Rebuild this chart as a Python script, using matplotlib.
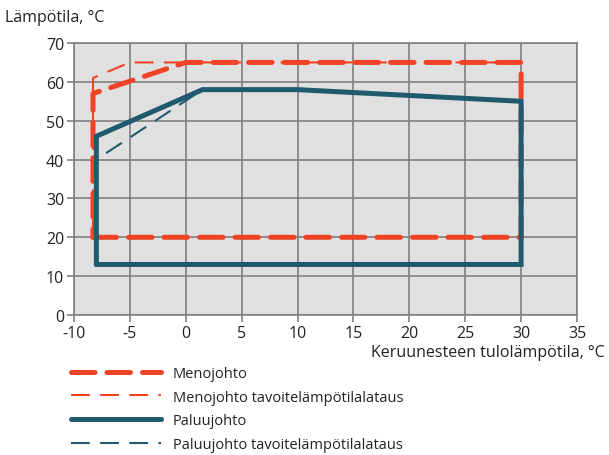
import matplotlib
matplotlib.use("Agg")
import matplotlib.pyplot as plt

plt.rcParams['font.family'] = ['Open Sans', 'DejaVu Sans']
plt.rcParams['axes.unicode_minus'] = False

# Operating envelope outlines (x: brine inlet temperature, y: line temperature)
supply_x = [-8.3, 30, 30, 0, -8.3, -8.3]
supply_y = [20, 20, 65, 65, 57, 20]

supply_target_x = [-8.3, -8.3, -5, 30]
supply_target_y = [20, 61, 65, 65]

return_x = [-8, 30, 30, 10, 1.5, -8, -8]
return_y = [13, 13, 55, 58, 58, 46, 13]

return_target_x = [-8, -8, 1.5]
return_target_y = [13, 40, 58]

x_ticks = [-10, -5, 0, 5, 10, 15, 20, 25, 30, 35]
y_ticks = [0, 10, 20, 30, 40, 50, 60, 70]

labels = ["Menojohto", "Menojohto tavoitelämpötilalataus",
          "Paluujohto", "Paluujohto tavoitelämpötilalataus"]

RED = "#f04326"
BLUE = "#1f5a6e"
GRID = "#7f7f7f"

fig = plt.figure(figsize=(6.09, 4.56), dpi=100)
ax = fig.add_axes([74 / 609, 1 - 316 / 456, 503 / 609, 272 / 456])
ax.set_facecolor("#e0e0e0")

ax.set_xlim(-10, 35)
ax.set_ylim(0, 70)
ax.set_xticks(x_ticks)
ax.set_yticks(y_ticks)
ax.grid(True, color=GRID, linewidth=1.2)
ax.set_axisbelow(True)
for s in ax.spines.values():
    s.set_color(GRID)
    s.set_linewidth(1.2)
ax.tick_params(length=5, width=1.2, color=GRID, labelsize=11.5, pad=2,
               labelcolor="#222222")

h1, = ax.plot(supply_x, supply_y, color=RED, lw=3.6, dashes=(4.7, 2.4),
              dash_capstyle="round", solid_joinstyle="round", zorder=4)
h2, = ax.plot(supply_target_x, supply_target_y, color=RED, lw=1.5,
              dashes=(9, 5), zorder=3)
h3, = ax.plot(return_x, return_y, color=BLUE, lw=3.6,
              solid_capstyle="round", solid_joinstyle="miter", zorder=5)
h4, = ax.plot(return_target_x, return_target_y, color=BLUE, lw=1.5,
              dashes=(9, 5), zorder=3)

fig.text(5 / 609, 1 - 18 / 456, "Lämpötila, °C", fontsize=11.5,
         color="#222222", va="center", ha="left")
fig.text(605 / 609, 1 - 353 / 456, "Keruunesteen tulolämpötila, °C",
         fontsize=11.5, color="#222222", va="center", ha="right")

fig.legend([h1, h2, h3, h4], labels, loc="upper left",
           bbox_to_anchor=(65 / 609, 1 - 361 / 456), frameon=False,
           fontsize=10.5, handlelength=6.2, handletextpad=0.8,
           labelspacing=0.6, borderaxespad=0, labelcolor="#222222")

fig.savefig("out.png", dpi=100)
